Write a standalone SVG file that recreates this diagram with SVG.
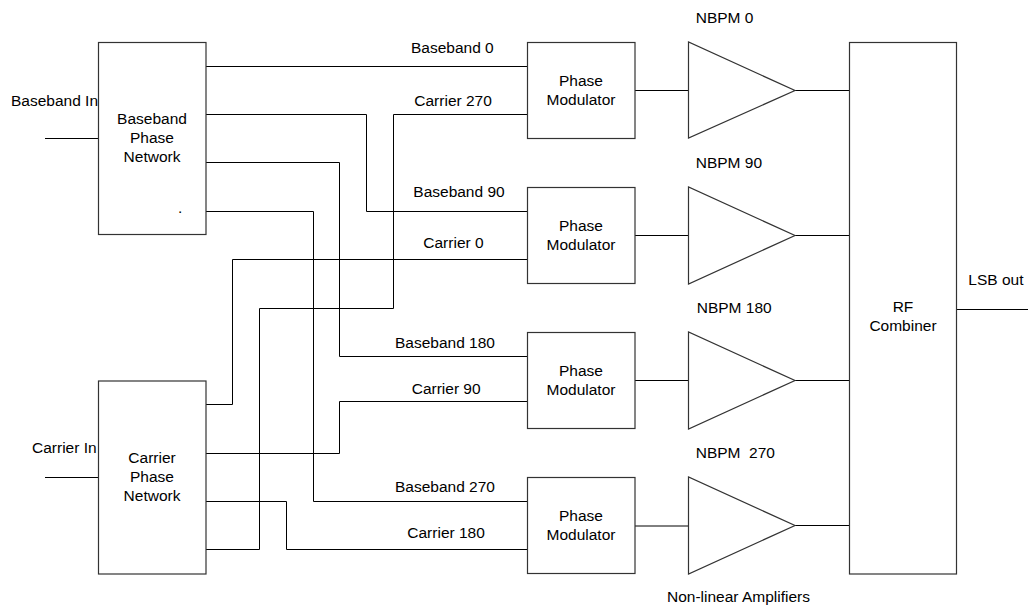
<svg xmlns="http://www.w3.org/2000/svg" width="1028" height="607" viewBox="0 0 1028 607">
<style>
text{font-family:"Liberation Sans",Arial,sans-serif;font-size:15.5px;fill:#000}
.c{text-anchor:middle}
.box{fill:#fff;stroke:#333;stroke-width:1.2}
.w{fill:none;stroke:#000;stroke-width:1}
</style>
<rect width="1028" height="607" fill="#fff"/>
<g id="connectors" class="w">
<path d="M45,138.5H98.5"/>
<path d="M45,477.5H98.5"/>
<path d="M206,66.5H527.5"/>
<path d="M206,114.5H366.5V211.5H527.5"/>
<path d="M206,162.5H339.5V356.5H527.5"/>
<path d="M206,211.5H313.5V501.5H527.5"/>
<path d="M206,404.5H232.5V259.5H527.5"/>
<path d="M206,453.5H339.5V401.5H527.5"/>
<path d="M206,501.5H286.5V549.5H527.5"/>
<path d="M206,549.5H259.5V308.5H393.5V114.5H527.5"/>
<path d="M635,90.5H688.5"/>
<path d="M635,235.5H688.5"/>
<path d="M635,380.5H688.5"/>
<path d="M635,526H688.5L688.5,525.5"/>
<path d="M795,90.5H849.5"/>
<path d="M795,235.5H849.5"/>
<path d="M795,380.5H849.5"/>
<path d="M795,525.5H849.5"/>
<path d="M956.5,309.5H1028"/>
</g>
<g id="baseband-network">
<rect class="box" x="98.5" y="42.5" width="107.5" height="192"/>
<text class="c" x="152" y="124">Baseband</text>
<text class="c" x="152" y="143">Phase</text>
<text class="c" x="152" y="162">Network</text>
<text x="178" y="213" font-size="8">.</text>
</g>
<g id="carrier-network">
<rect class="box" x="98.5" y="381" width="107.5" height="193"/>
<text class="c" x="152" y="462.7">Carrier</text>
<text class="c" x="152" y="481.7">Phase</text>
<text class="c" x="152" y="500.7">Network</text>
</g>
<g id="labels-in">
<text x="11" y="106">Baseband In</text>
<text x="32" y="453.3">Carrier In</text>
</g>
<g id="labels-lines">
<text x="411" y="52.7">Baseband 0</text>
<text x="414.3" y="105.7">Carrier 270</text>
<text x="413.3" y="196.7">Baseband 90</text>
<text x="423.3" y="247.7">Carrier 0</text>
<text x="395" y="348.3">Baseband 180</text>
<text x="411.7" y="394">Carrier 90</text>
<text x="395" y="492.3">Baseband 270</text>
<text x="407.3" y="537.7">Carrier 180</text>
</g>
<g id="pm0">
<rect class="box" x="527.5" y="42.5" width="107.5" height="96"/>
<text class="c" x="581" y="85.5">Phase</text>
<text class="c" x="581" y="104.5">Modulator</text>
</g>
<g id="pm1">
<rect class="box" x="527.5" y="187.5" width="107.5" height="96"/>
<text class="c" x="581" y="230.5">Phase</text>
<text class="c" x="581" y="249.5">Modulator</text>
</g>
<g id="pm2">
<rect class="box" x="527.5" y="332.5" width="107.5" height="96"/>
<text class="c" x="581" y="375.5">Phase</text>
<text class="c" x="581" y="394.5">Modulator</text>
</g>
<g id="pm3">
<rect class="box" x="527.5" y="477.5" width="107.5" height="96"/>
<text class="c" x="581" y="520.5">Phase</text>
<text class="c" x="581" y="539.5">Modulator</text>
</g>
<g id="amp0">
<polygon class="box" points="688.5,42 688.5,138 795,90.5"/>
<text x="695.7" y="23.3">NBPM 0</text>
</g>
<g id="amp1">
<polygon class="box" points="688.5,187 688.5,284 795,235.5"/>
<text x="695.7" y="167.7">NBPM 90</text>
</g>
<g id="amp2">
<polygon class="box" points="688.5,332 688.5,429 795,380.5"/>
<text x="696.7" y="312.7">NBPM 180</text>
</g>
<g id="amp3">
<polygon class="box" points="688.5,477 688.5,574 795,525.5"/>
<text x="695.7" y="457.7" xml:space="preserve">NBPM  270</text>
</g>
<g id="combiner">
<rect class="box" x="849.5" y="42.5" width="107" height="531.5"/>
<text class="c" x="903" y="311.7">RF</text>
<text class="c" x="903" y="330.7">Combiner</text>
</g>
<g id="labels-out">
<text x="968.3" y="285">LSB out</text>
<text x="667" y="601.7">Non-linear Amplifiers</text>
</g>
</svg>
